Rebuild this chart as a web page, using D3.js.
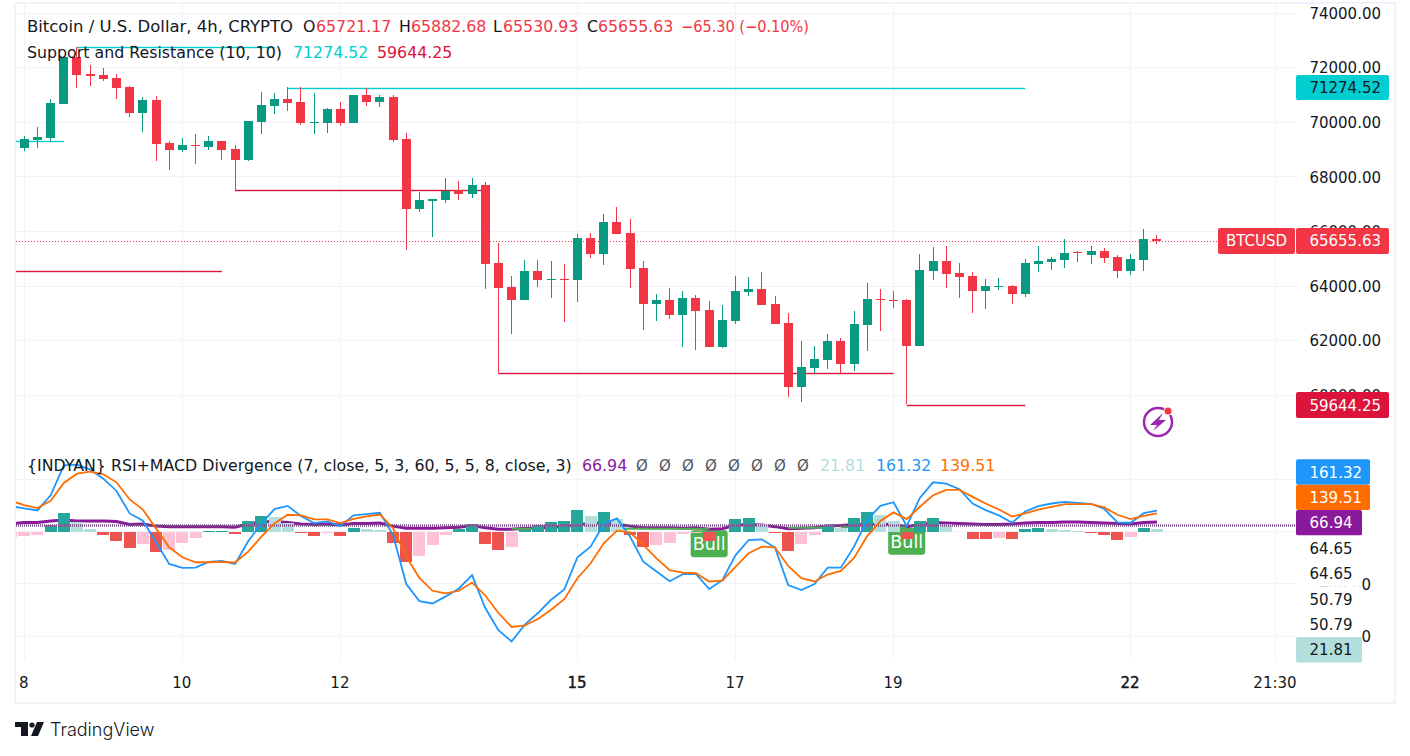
<!DOCTYPE html>
<html>
<head>
<meta charset="utf-8">
<script src="https://cdn.jsdelivr.net/npm/d3@7"></script>
<style>
  html, body { margin: 0; padding: 0; background: #fff; }
  text { font-family: "DejaVu Sans", sans-serif; font-size: 15px; fill: #131722; }
</style>
</head>
<body>
<div id="chart"></div>
<script>
// candles, bar 0 is the first one visible
const opens = [
  69058,69351,69424,70669,72391,71768,71732,71622,71292,70340,
  70816,69241,68984,69168,69094,69314,69021,68618,70010,70596,
  70853,70743,69974,69974,70486,69974,70999,70743,70926,69387,
  66823,67116,67153,67519,67373,67703,64845,63966,63490,64552,
  64223,64259,64223,65761,65175,66347,65944,64662,63344,63490,
  62941,63563,63124,61768,62721,63783,63893,63344,62648,60303,
  60999,61292,61988,61146,62574,63527,63490,63490,61805,64552,
  64919,64479,64369,63820,63966,64003,63710,64809,64882,64955,
  65236,65138,65285,65065,64552,64955,65721.17];
const highs = [
  69497,69827,70853,72391,72757,72098,71988,71768,71329,70926,
  70963,69314,69424,69571,69497,69314,69168,70047,71109,71072,
  71292,71292,71072,70523,70743,70999,71256,70999,70999,69607,
  67446,67190,67959,67849,67959,67812,65578,64369,64955,64955,
  64919,64809,65908,65944,66640,66897,66457,64919,63710,63930,
  63820,63673,63453,63307,64369,64333,64516,63637,63014,61988,
  61805,62245,62098,63087,64113,63893,63820,63527,65175,65431,
  65468,64845,64516,64259,64296,64039,64992,65468,65065,65724,
  65285,65468,65395,65138,65175,66091,65882.68];
const lows = [
  68948,69058,69278,70669,71256,71329,71512,70853,70193,69644,
  68582,68252,68911,68472,68984,68618,67519,68582,69571,70303,
  70413,69900,69571,69607,69864,69974,70596,70560,69278,65321,
  66713,65798,67043,67153,67226,63893,60804,62245,63490,63966,
  63563,62684,63417,65029,64772,65908,63930,62391,62721,62794,
  61768,61659,61768,61732,62611,63637,63307,62611,59937,59754,
  60804,60963,60804,60889,61622,62355,63197,59681,61805,64223,
  63930,63563,63014,63160,63856,63343,63600,64516,64589,64662,
  64882,64809,64845,64296,64406,64552,65530.93];
const closes = [
  69387,69461,70706,72391,71732,71695,71585,71256,70340,70816,
  69204,68984,69168,69131,69314,68984,68618,70047,70633,70853,
  70706,69974,70010,70486,69974,70999,70743,70926,69351,66823,
  67153,67190,67483,67373,67702,64809,63930,63490,64552,64223,
  64259,64223,65761,65175,66347,65908,64626,63344,63490,62941,
  63563,63087,61768,62757,63820,63893,63307,62611,60303,61036,
  61329,61988,61146,62611,63527,63490,63453,61805,64589,64919,
  64442,64332,63820,64003,64003,63710,64845,64919,64992,65212,
  65199,65285,65028,64552,64992,65724,65655.63];

// [first bar, last bar, price]
const resistance = [[-1, 3, 69314], [4, 19, 72757], [20, 76, 71274.52]];
const support = [[-1, 15, 64553], [16, 35, 67519], [36, 66, 60804], [67, 76, 59644.25]];

// indicator series start one bar earlier, that bar is cut by the left edge
const macdLine = [
  195,177,162,278,507,512,474,405,311,139,83,
  -79,-247,-277,-275,-231,-224,-247,-74,63,172,
  197,119,65,78,43,124,134,144,-26,-401,
  -531,-549,-495,-434,-333,-584,-754,-840,-711,-622,
  -521,-442,-196,-115,58,101,-39,-229,-305,-379,
  -325,-323,-439,-371,-181,-64,-59,-122,-409,-447,
  -401,-275,-275,-115,88,197,225,43,258,377,
  367,324,215,164,124,68,154,195,215,228,
  220,213,174,70,68,141,161.32];
const signalLine = [
  235,202,180,235,372,443,459,438,377,246,169,
  25,-120,-196,-234,-234,-231,-236,-153,-39,63,
  129,124,93,93,65,98,116,131,25,-191,
  -353,-452,-472,-452,-389,-488,-622,-729,-716,-668,
  -597,-516,-356,-242,-89,7,-6,-102,-204,-295,
  -313,-318,-381,-374,-270,-165,-115,-120,-262,-356,
  -381,-328,-300,-201,-34,81,147,96,190,278,
  319,319,266,215,169,116,139,169,190,210,
  210,210,185,129,96,121,139.51];
const histogram = [
  -43,-36,-28,48,140,71,18,-28,-74,-127,-96,
  -157,-142,-89,-51,3,5,-20,79,117,109,
  63,-13,-36,-13,-36,25,18,16,-89,-233,
  -188,-104,-28,18,56,-96,-142,-119,15,48,
  71,79,162,117,147,94,-28,-119,-104,-89,
  -20,-13,-74,0,94,101,56,-13,-150,-96,
  -28,48,25,101,147,124,79,-58,79,101,
  56,-5,-58,-60,-51,-58,18,25,18,16,
  3,-13,-28,-66,-43,25,21.81];
const rsiLine = [
  64,66,66,69,71,69,69,69,68,62,63,
  59,58,58,58,58,58,57,63,67,68,
  66,63,62,63,61,64,64,65,59,55,
  55,55,56,57,60,56,53,53,55,55,
  57,58,62,64,66,63,59,56,56,56,
  55,56,53,54,61,62,61,58,54,55,
  56,59,60,62,63,63,62,58,62,66,
  65,64,63,62,62,63,65,66,66,67,
  67,66,65,64,63,66,66.94];
const rsiLevel = 60;
const bullBars = [52, 67];
const bullSpans = [[37, 39, 54], [45, 52, 54], [58, 61, 56], [62, 63, 57], [66, 67, 57]];

const priceTicks = [60000, 62000, 64000, 66000, 68000, 70000, 72000, 74000];
const macdTicks = [400, 0, -400, -800];
const macdLabelTicks = [-400, -800];
const timeBars = [0, 12, 24, 42, 54, 66, 84, 95];
const timeLabels = ["8", "10", "12", "15", "17", "19", "22", "21:30"];
const boldTimes = ["15", "22"];

const stackValues = ["161.32", "139.51", "66.94", "64.65", "64.65", "50.79", "50.79", "21.81"];
const stackFills = ["#1e96fc", "#ff6d00", "#8a1a9b", "#fff", "#fff", "#fff", "#fff", "#b2dfdb"];
const stackText = ["#fff", "#fff", "#fff", "#131722", "#131722", "#131722", "#131722", "#131722"];
const stackRight = [1370, 1370, 1362, 1362, 1362, 1362, 1362, 1362];

const upColor = "#089981";
const downColor = "#f23645";
const gridColor = "#f0f3fa";
const cyan = "#00ced1";
const crimson = "#dc143c";

const width = 1410, height = 756;
const paneLeft = 16, paneRight = 1296, paneTop = 4, paneBottom = 660;

const x = d3.scaleLinear().domain([0, 84]).range([24.3, 1130.6]);
const y = d3.scaleLinear().domain([60000, 72000]).range([395.3, 67.7]);
const yMacd = d3.scaleLinear().domain([-800, 400]).range([636.3, 479.3]);
const yRsi = d3.scaleLinear().domain([0, 100]).range([556.8, 504.8]);

const svg = d3.select("#chart").append("svg")
  .attr("width", width)
  .attr("height", height)
  .style("display", "block");

svg.append("clipPath").attr("id", "pane")
  .append("rect")
  .attr("x", paneLeft).attr("y", paneTop)
  .attr("width", paneRight - paneLeft).attr("height", paneBottom - paneTop);
svg.append("clipPath").attr("id", "timeClip")
  .append("rect")
  .attr("x", 0).attr("y", paneBottom)
  .attr("width", paneRight).attr("height", 40);

// outer frame
svg.append("rect")
  .attr("x", 15).attr("y", 3)
  .attr("width", 1380).attr("height", 700)
  .attr("fill", "none")
  .attr("stroke", gridColor)
  .attr("stroke-width", 2);

// grid
const grid = svg.append("g").attr("shape-rendering", "crispEdges").attr("stroke", gridColor);
grid.selectAll(".v").data(timeBars).enter().append("line")
  .attr("x1", (d) => x(d)).attr("x2", (d) => x(d))
  .attr("y1", paneTop).attr("y2", paneBottom);
grid.selectAll(".h").data(priceTicks).enter().append("line")
  .attr("x1", paneLeft).attr("x2", paneRight)
  .attr("y1", (d) => y(d)).attr("y2", (d) => y(d));
grid.selectAll(".m").data(macdTicks).enter().append("line")
  .attr("x1", paneLeft).attr("x2", paneRight)
  .attr("y1", (d) => yMacd(d)).attr("y2", (d) => yMacd(d));

const chart = svg.append("g").attr("clip-path", "url(#pane)");

// support / resistance levels, thin line with a soft halo
const snap = (v) => Math.round(v) + 0.5;
function drawLevels(levels, color) {
  const g = chart.append("g");
  g.selectAll(".halo").data(levels).enter().append("line")
    .attr("x1", (d) => x(d[0])).attr("x2", (d) => x(d[1]))
    .attr("y1", (d) => snap(y(d[2]))).attr("y2", (d) => snap(y(d[2])))
    .attr("stroke", color).attr("stroke-width", 3).attr("stroke-opacity", 0.2);
  g.selectAll(".core").data(levels).enter().append("line")
    .attr("x1", (d) => x(d[0])).attr("x2", (d) => x(d[1]))
    .attr("y1", (d) => snap(y(d[2]))).attr("y2", (d) => snap(y(d[2])))
    .attr("stroke", color).attr("stroke-width", 1);
}
drawLevels(resistance, cyan);
drawLevels(support, crimson);

// last price line
chart.append("line")
  .attr("x1", paneLeft).attr("x2", paneRight)
  .attr("y1", snap(y(closes[closes.length - 1]))).attr("y2", snap(y(closes[closes.length - 1])))
  .attr("stroke", downColor)
  .attr("stroke-width", 1.2)
  .attr("stroke-dasharray", "1 2");

// candles
const candleColor = (i) => closes[i] >= opens[i] ? upColor : downColor;
const candles = chart.append("g").attr("shape-rendering", "crispEdges");
candles.selectAll(".wick").data(d3.range(opens.length)).enter().append("rect")
  .attr("x", (i) => Math.round(x(i) - 0.5))
  .attr("width", 1)
  .attr("y", (i) => y(highs[i]))
  .attr("height", (i) => y(lows[i]) - y(highs[i]))
  .attr("fill", candleColor);
candles.selectAll(".body").data(d3.range(opens.length)).enter().append("rect")
  .attr("x", (i) => Math.round(x(i) - 0.5) - 4)
  .attr("width", 9)
  .attr("y", (i) => y(Math.max(opens[i], closes[i])))
  .attr("height", (i) => Math.max(1, Math.abs(y(opens[i]) - y(closes[i]))))
  .attr("fill", candleColor);

// lower pane. bars are offset by one because the indicator series start at bar -1
const bullGroup = chart.append("g");
bullBars.forEach((b) => {
  const top = yRsi(rsiLine[b + 1]) + 1;
  bullGroup.append("rect")
    .attr("x", x(b) - 18.5).attr("y", top)
    .attr("width", 37).attr("height", 27).attr("rx", 3)
    .attr("fill", "#4caf50");
  bullGroup.append("text")
    .attr("x", x(b)).attr("y", top + 20)
    .attr("text-anchor", "middle")
    .style("font-size", "17.5px")
    .style("fill", "#fff")
    .text("Bull");
});

const rsiPath = d3.line().x((d, i) => x(i - 1)).y((d) => yRsi(d));
chart.append("path")
  .attr("d", rsiPath(rsiLine))
  .attr("fill", "none")
  .attr("stroke", "#8a1a9b")
  .attr("stroke-width", 3);

chart.selectAll(".bullSpan").data(bullSpans).enter().append("line")
  .attr("x1", (d) => x(d[0])).attr("x2", (d) => x(d[1]))
  .attr("y1", (d) => yRsi(d[2])).attr("y2", (d) => yRsi(d[2]))
  .attr("stroke", "#4caf50").attr("stroke-width", 2);

function histColor(d, i) {
  const prev = i > 0 ? histogram[i - 1] : d;
  if (d >= 0) return d >= prev ? "#26a69a" : "#b2dfdb";
  return d < prev ? "#ef5350" : "#ffc1d6";
}
chart.append("g").attr("shape-rendering", "crispEdges")
  .selectAll("rect").data(histogram).enter().append("rect")
  .attr("x", (d, i) => x(i - 1) - 6)
  .attr("width", 12)
  .attr("y", (d) => Math.min(yMacd(d), yMacd(0)))
  .attr("height", (d) => Math.max(0.6, Math.abs(yMacd(d) - yMacd(0))))
  .attr("fill", histColor);

chart.append("line")
  .attr("x1", paneLeft).attr("x2", paneRight)
  .attr("y1", yRsi(rsiLevel)).attr("y2", yRsi(rsiLevel))
  .attr("stroke", "#7b4f8a")
  .attr("stroke-width", 2.5)
  .attr("stroke-dasharray", "1 1");

const macdPath = d3.line().x((d, i) => x(i - 1)).y((d) => yMacd(d));
chart.append("path").attr("d", macdPath(macdLine))
  .attr("fill", "none").attr("stroke", "#1e96fc").attr("stroke-width", 1.8);
chart.append("path").attr("d", macdPath(signalLine))
  .attr("fill", "none").attr("stroke", "#ff6d00").attr("stroke-width", 1.8);

// axes
const priceAxis = svg.append("g")
  .attr("transform", "translate(1381,0.4)")
  .call(d3.axisLeft(y).tickValues(priceTicks).tickFormat(d3.format(".2f")).tickSize(0).tickPadding(0));
const macdAxis = svg.append("g")
  .attr("transform", "translate(1371,0.4)")
  .call(d3.axisLeft(yMacd).tickValues(macdLabelTicks).tickFormat(d3.format(".2f")).tickSize(0).tickPadding(0));
const timeAxis = svg.append("g")
  .attr("clip-path", "url(#timeClip)")
  .append("g")
  .attr("transform", "translate(-1," + paneBottom + ")")
  .call(d3.axisBottom(x).tickValues(timeBars).tickFormat((d, i) => timeLabels[i]).tickSize(0).tickPadding(17));
[priceAxis, macdAxis, timeAxis].forEach((a) => {
  a.select(".domain").remove();
  a.selectAll("text").style("font-family", "'DejaVu Sans', sans-serif").style("font-size", "15px").style("fill", "#131722");
});
timeAxis.selectAll("text")
  .style("stroke", "#131722")
  .style("stroke-width", (d, i) => boldTimes.includes(timeLabels[i]) ? 0.45 : 0);

// price tags
function tag(x0, x1, yc, h, fill, label, color) {
  svg.append("rect")
    .attr("x", x0).attr("y", yc - h / 2)
    .attr("width", x1 - x0).attr("height", h)
    .attr("rx", 2)
    .attr("fill", fill);
  svg.append("text")
    .attr("x", x1 === 1362 ? x1 - 9.5 : x1 - 8)
    .attr("y", yc + 5.5)
    .attr("text-anchor", "end")
    .style("fill", color)
    .text(label);
}
tag(1296, 1389, y(71274.52), 25, cyan, "71274.52", "#131722");
tag(1218, 1295, y(65655.63), 26, downColor, "BTCUSD", "#fff");
tag(1296, 1389, y(65655.63), 26, downColor, "65655.63", "#fff");
tag(1296, 1389, y(59644.25), 26, crimson, "59644.25", "#fff");

stackValues.forEach((v, i) => {
  tag(1296, stackRight[i], 472 + i * 25.4, 25.4, stackFills[i], v, stackText[i]);
});

// legend, entries are [x, text, colour, fitted width]
function legend(yPos, parts) {
  parts.forEach((p) => {
    const t = svg.append("text")
      .attr("x", p[0]).attr("y", yPos)
      .style("font-size", "15.8px")
      .style("fill", p[2] || "#131722")
      .text(p[1]);
    if (p[3]) t.attr("textLength", p[3]).attr("lengthAdjust", "spacingAndGlyphs");
  });
}
legend(32, [
  [27, "Bitcoin / U.S. Dollar, 4h, CRYPTO", null, 266],
  [303, "O"], [316, "65721.17", downColor],
  [399, "H"], [411, "65882.68", downColor],
  [493, "L"], [503, "65530.93", downColor],
  [587, "C"], [598, "65655.63", downColor],
  [681, "−65.30 (−0.10%)", downColor, 128]
]);
legend(58, [
  [27, "Support and Resistance (10, 10)"],
  [293, "71274.52", cyan],
  [377, "59644.25", crimson]
]);
legend(471, [
  [27, "{INDYAN} RSI+MACD Divergence (7, close, 5, 3, 60, 5, 5, 8, close, 3)"],
  [582, "66.94", "#8a1a9b"],
  [820, "21.81", "#b2dfdb"],
  [876, "161.32", "#1e96fc"],
  [940, "139.51", "#ff6d00"]
]);
d3.range(8).forEach((i) => {
  svg.append("text")
    .attr("x", 642 + i * 23).attr("y", 471)
    .attr("text-anchor", "middle")
    .style("fill", "#50535e")
    .text("Ø");
});

// alert icon
const icon = svg.append("g").attr("transform", "translate(1158,422)");
icon.append("circle").attr("r", 14).attr("fill", "#fff").attr("stroke", "#9c27b0").attr("stroke-width", 2.5);
icon.append("path").attr("d", "M5,-9 L-8,3 L-1,3 L-5,9 L8,-2 L1,-2 Z").attr("fill", "#9c27b0");
icon.append("circle").attr("cx", 10).attr("cy", -11).attr("r", 4.5).attr("fill", "#fff");
icon.append("circle").attr("cx", 10).attr("cy", -11).attr("r", 3.5).attr("fill", "#f23645");

// logo
const logo = svg.append("g").attr("transform", "translate(15,722)").attr("fill", "#131722");
logo.append("path").attr("d", "M0,0 H13 V14 H6 V5 H0 Z");
logo.append("circle").attr("cx", 17).attr("cy", 3).attr("r", 2.6);
logo.append("path").attr("d", "M22,0 H29 L23,14 H16 Z");
svg.append("text")
  .attr("x", 50).attr("y", 736)
  .style("font-family", "Inter, sans-serif")
  .style("font-size", "18px")
  .style("font-weight", "300")
  .style("fill", "#131722")
  .text("TradingView");
</script>
</body>
</html>
